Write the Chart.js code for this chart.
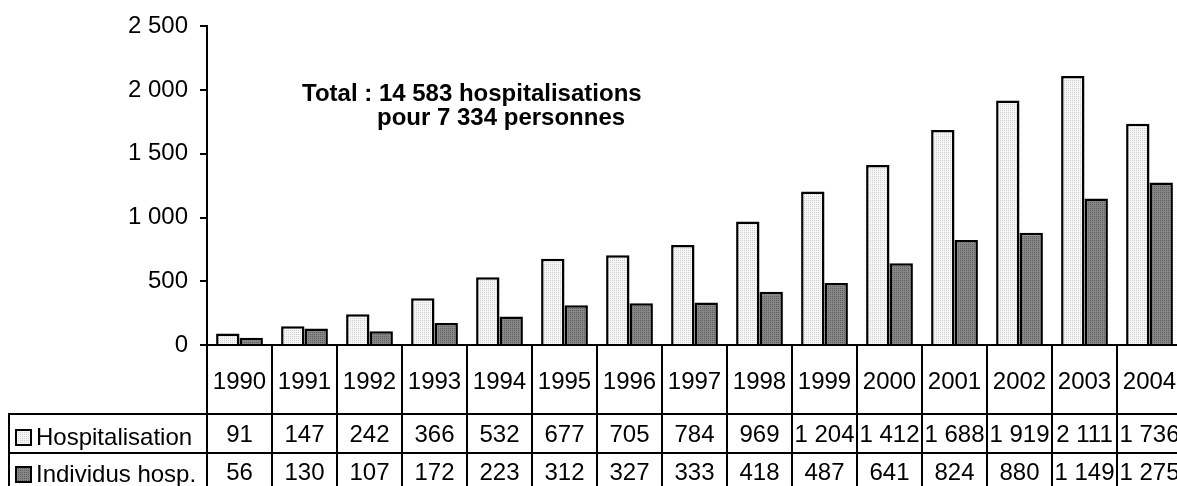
<!DOCTYPE html>
<html>
<head>
<meta charset="utf-8">
<script src="https://cdn.jsdelivr.net/npm/chart.js@4"></script>
<style>
  html, body { margin: 0; padding: 0; background: #fff; overflow: hidden; }
  #wrap { width: 1182px; height: 486px; }
</style>
</head>
<body>
<div id="wrap"><canvas id="hospChart" width="1182" height="486"></canvas></div>
<script>
const years = ['1990', '1991', '1992', '1993', '1994', '1995', '1996', '1997', '1998', '1999', '2000', '2001', '2002', '2003', '2004'];
const hospitalisations = [91, 147, 242, 366, 532, 677, 705, 784, 969, 1204, 1412, 1688, 1919, 2111, 1736];
const individus = [56, 130, 107, 172, 223, 312, 327, 333, 418, 487, 641, 824, 880, 1149, 1275];
const seriesNames = ['Hospitalisation', 'Individus hosp.'];
const yMax = 2500;
const yStep = 500;
const noteLines = ['Total : 14 583 hospitalisations', 'pour 7 334 personnes'];

const FONT = "'Liberation Sans', Arial, sans-serif";

// thousands separated by a space, as in the source
function fmt(n) {
    return String(n).replace(/\B(?=(\d{3})+(?!\d))/g, ' ');
}

// small dotted fills like the original print patterns
function makePattern(bg, dot) {
    const c = document.createElement('canvas');
    c.width = 2;
    c.height = 2;
    const g = c.getContext('2d');
    g.fillStyle = bg;
    g.fillRect(0, 0, 2, 2);
    g.fillStyle = dot;
    g.fillRect(0, 0, 1, 1);
    return g.createPattern(c, 'repeat');
}

const ctx = document.getElementById('hospChart').getContext('2d');
const lightFill = makePattern('#f6f6f6', '#cfcfcf');
const darkFill = makePattern('#878787', '#5e5e5e');
const fills = [lightFill, darkFill];

const notePlugin = {
    id: 'note',
    afterDraw(chart) {
        const c = chart.ctx;
        c.save();
        c.fillStyle = '#000';
        c.font = 'bold 24px ' + FONT;
        c.textBaseline = 'alphabetic';
        c.fillText(noteLines[0], 302, 101);
        c.fillText(noteLines[1], 377, 125);
        c.restore();
    }
};

const tablePlugin = {
    id: 'dataTable',
    afterDraw(chart) {
        const c = chart.ctx;
        const a = chart.chartArea;
        const xs = chart.scales.x;
        const H = chart.height;
        const w = (a.right - a.left) / years.length;
        const row1Bottom = a.bottom + 69;
        const row2Bottom = a.bottom + 108;

        c.save();
        c.strokeStyle = '#000';
        c.lineWidth = 2;
        c.beginPath();
        // x axis line
        c.moveTo(a.left - 1, a.bottom);
        c.lineTo(a.right, a.bottom);
        // row lines
        c.moveTo(8, row1Bottom);
        c.lineTo(a.right, row1Bottom);
        c.moveTo(8, row2Bottom);
        c.lineTo(a.right, row2Bottom);
        c.moveTo(9, row1Bottom);
        c.lineTo(9, H);
        // column lines
        for (let i = 0; i <= years.length; i++) {
            const x = Math.round(a.left + i * w);
            c.moveTo(x, a.bottom);
            c.lineTo(x, H);
        }
        c.stroke();

        c.fillStyle = '#000';
        c.font = '24px ' + FONT;
        c.textAlign = 'center';
        c.textBaseline = 'middle';
        years.forEach((y, i) => {
            const cx = xs.getPixelForValue(i);
            c.fillText(y, cx, a.bottom + 37);
            c.fillText(fmt(hospitalisations[i]), cx, row1Bottom + 21);
            c.fillText(fmt(individus[i]), cx, row2Bottom + 20);
        });

        // legend keys in the first column
        const keyY = [row1Bottom + 16, row2Bottom + 14];
        seriesNames.forEach((name, k) => {
            c.fillStyle = fills[k];
            c.fillRect(16, keyY[k], 15, 15);
            c.strokeRect(16, keyY[k], 15, 15);
            c.fillStyle = '#000';
            c.textAlign = 'left';
            c.fillText(name, 36, keyY[k] + 8);
        });
        c.restore();
    }
};

new Chart(ctx, {
    type: 'bar',
    data: {
        labels: years,
        datasets: [{
            label: seriesNames[0],
            data: hospitalisations,
            backgroundColor: lightFill,
            borderColor: '#000',
            borderWidth: 2.5,
            borderSkipped: 'bottom'
        }, {
            label: seriesNames[1],
            data: individus,
            backgroundColor: darkFill,
            borderColor: '#000',
            borderWidth: 2.5,
            borderSkipped: 'bottom'
        }]
    },
    options: {
        responsive: false,
        animation: false,
        events: [],
        categoryPercentage: 0.72,
        barPercentage: 1.0,
        layout: {
            padding: { left: 0, top: 24, right: 0, bottom: 141 }
        },
        plugins: {
            legend: { display: false },
            tooltip: { enabled: false }
        },
        scales: {
            x: {
                display: false
            },
            y: {
                min: 0,
                max: yMax,
                afterFit(scale) {
                    scale.width = 207;
                },
                border: {
                    color: '#000',
                    width: 2
                },
                grid: {
                    drawOnChartArea: false,
                    color: '#000',
                    lineWidth: 2,
                    tickLength: 7
                },
                ticks: {
                    stepSize: yStep,
                    padding: 12,
                    color: '#000',
                    font: { family: FONT, size: 24 },
                    callback: function(value) {
                        return fmt(value);
                    }
                }
            }
        }
    },
    plugins: [notePlugin, tablePlugin]
});
</script>
</body>
</html>
